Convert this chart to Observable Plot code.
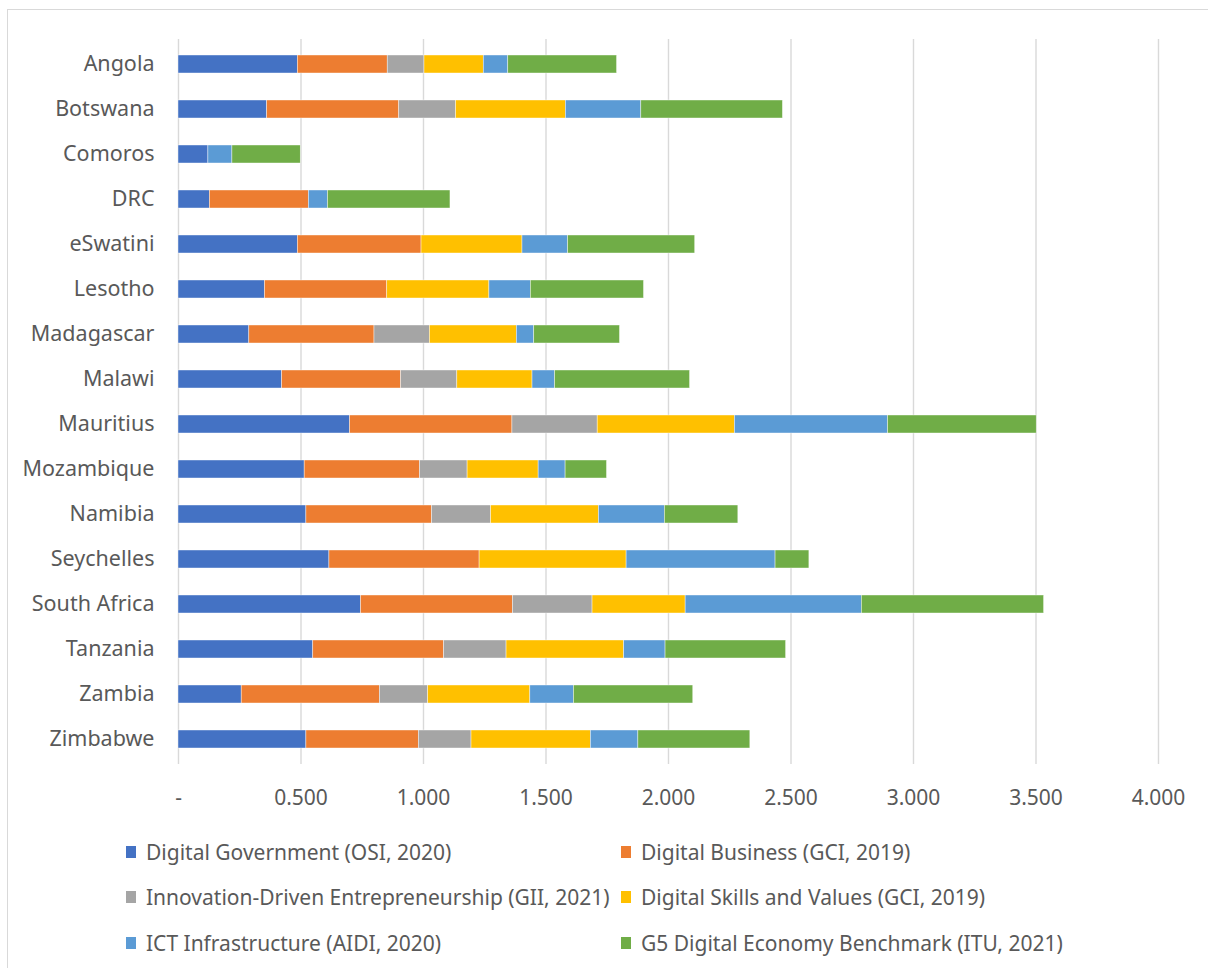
<!DOCTYPE html>
<html>
<head>
<meta charset="utf-8">
<script src="https://cdn.jsdelivr.net/npm/d3@7"></script>
<script src="https://cdn.jsdelivr.net/npm/@observablehq/plot@0.6"></script>
<style>
  html, body { margin: 0; padding: 0; background: #ffffff; }
  #wrap { position: relative; width: 1208px; height: 968px; overflow: hidden; font-family: "Noto Sans", sans-serif; color: #595959; }
  #frame { position: absolute; left: 7px; top: 9px; width: 1400px; height: 1200px; border: 1.5px solid #d9d9d9; box-sizing: border-box; }
  #chart { position: absolute; left: 0; top: 0; }
  .leg { position: absolute; display: flex; align-items: center; font-size: 21px; white-space: nowrap; height: 24px; }
  .leg .sw { width: 10px; height: 12px; margin-right: 10px; flex: none; }
</style>
</head>
<body>
<div id="wrap">
  <div id="frame"></div>
  <div id="chart"></div>
  <div id="legend"></div>
</div>
<script>
// Countries, top to bottom
const countries = ["Angola", "Botswana", "Comoros", "DRC", "eSwatini", "Lesotho", "Madagascar", "Malawi",
  "Mauritius", "Mozambique", "Namibia", "Seychelles", "South Africa", "Tanzania", "Zambia", "Zimbabwe"];

// Index components, in stacking order
const series = [
  "Digital Government (OSI, 2020)",
  "Digital Business (GCI, 2019)",
  "Innovation-Driven Entrepreneurship (GII, 2021)",
  "Digital Skills and Values (GCI, 2019)",
  "ICT Infrastructure (AIDI, 2020)",
  "G5 Digital Economy Benchmark (ITU, 2021)"
];
const colors = ["#4472C4", "#ED7D31", "#A5A5A5", "#FFC000", "#5B9BD5", "#70AD47"];

// Component scores per country (null = not covered)
const digitalGovernment = [0.487, 0.362, 0.122, 0.128, 0.487, 0.353, 0.289, 0.423, 0.700, 0.515, 0.522, 0.616, 0.745, 0.550, 0.258, 0.522];
const digitalBusiness   = [0.367, 0.539, null,  0.404, 0.505, 0.499, 0.511, 0.486, 0.663, 0.471, 0.513, 0.613, 0.620, 0.534, 0.564, 0.459];
const innovation        = [0.150, 0.232, null,  null,  null,  null,  0.226, 0.229, 0.348, 0.194, 0.241, null,  0.325, 0.255, 0.197, 0.215];
const digitalSkills     = [0.242, 0.448, null,  null,  0.412, 0.417, 0.355, 0.307, 0.560, 0.290, 0.440, 0.600, 0.380, 0.480, 0.417, 0.487];
const ictInfrastructure = [0.100, 0.308, 0.098, 0.078, 0.186, 0.169, 0.071, 0.092, 0.625, 0.110, 0.269, 0.608, 0.719, 0.169, 0.178, 0.194];
const g5Benchmark       = [0.444, 0.578, 0.279, 0.500, 0.519, 0.462, 0.350, 0.551, 0.607, 0.169, 0.300, 0.138, 0.744, 0.492, 0.487, 0.457];

const xTicks = [0, 0.5, 1, 1.5, 2, 2.5, 3, 3.5, 4];

const columns = [digitalGovernment, digitalBusiness, innovation, digitalSkills, ictInfrastructure, g5Benchmark];
const rows = [];
countries.forEach((c, i) => {
  columns.forEach((col, j) => {
    if (col[i] != null) rows.push({country: c, series: series[j], value: col[i]});
  });
});

const chart = Plot.plot({
  width: 1208,
  height: 822,
  marginLeft: 178,
  marginRight: 50,
  marginTop: 39,
  marginBottom: 58,
  style: {fontFamily: "'Noto Sans', sans-serif", color: "#595959", background: "transparent"},
  x: {domain: [0, 4], ticks: xTicks, tickFormat: d => d === 0 ? "-" : d3.format(".3f")(d)},
  y: {domain: countries, paddingInner: 0.6, paddingOuter: 0.3},
  color: {domain: series, range: colors},
  marks: [
    Plot.gridX(xTicks, {stroke: "#d9d9d9", strokeOpacity: 1, strokeWidth: 1.4}),
    Plot.barX(rows, {x: "value", y: "country", fill: "series", stroke: "#ffffff", strokeWidth: 0.6, strokeOpacity: 0.7}),
    Plot.axisX({ticks: xTicks, tickSize: 0, tickPadding: 26, fontSize: 21, label: null,
      tickFormat: d => d === 0 ? "-" : d3.format(".3f")(d)}),
    Plot.axisY({tickSize: 0, tickPadding: 24, fontSize: 21.5, label: null})
  ]
});
document.getElementById("chart").appendChild(chart);

// Legend: two columns, three rows
const legend = document.getElementById("legend");
const legCols = [126, 621];
const legRows = [852, 897, 943];
series.forEach((s, i) => {
  const el = document.createElement("div");
  el.className = "leg";
  el.style.left = legCols[i % 2] + "px";
  el.style.top = (legRows[Math.floor(i / 2)] - 12) + "px";
  const sw = document.createElement("span");
  sw.className = "sw";
  sw.style.background = colors[i];
  const tx = document.createElement("span");
  tx.textContent = s;
  el.appendChild(sw);
  el.appendChild(tx);
  legend.appendChild(el);
});
</script>
</body>
</html>
